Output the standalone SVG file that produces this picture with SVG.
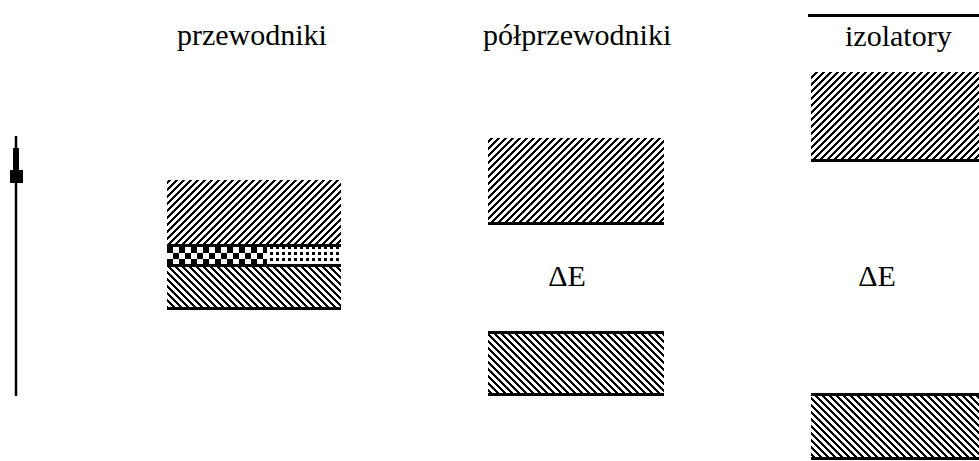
<svg xmlns="http://www.w3.org/2000/svg" width="979" height="461" viewBox="0 0 979 461">
  <style>
    .lbl { font-family: "Liberation Serif", "Times New Roman", serif; font-size: 30px; fill: #000; }
    .mid { text-anchor: middle; }
    .edge { stroke: #000; stroke-width: 3; shape-rendering: crispEdges; }
  </style>
  <defs>
    <!-- rising hatch (/) -->
    <pattern id="hatchUp" patternUnits="userSpaceOnUse" width="7" height="7">
      <path d="M-1,8 L8,-1 M-1,1 L1,-1 M6,8 L8,6" stroke="#000" stroke-width="2.2" shape-rendering="crispEdges"/>
    </pattern>
    <!-- falling hatch (\) -->
    <pattern id="hatchDown" patternUnits="userSpaceOnUse" width="7" height="7">
      <path d="M-1,-1 L8,8 M6,-1 L8,1 M-1,6 L1,8" stroke="#000" stroke-width="2.2" shape-rendering="crispEdges"/>
    </pattern>
    <!-- coarse checkerboard -->
    <pattern id="checker" patternUnits="userSpaceOnUse" x="167" y="247" width="12" height="12">
      <rect width="6" height="6" fill="#000"/>
      <rect x="6" y="6" width="6" height="6" fill="#000"/>
    </pattern>
    <!-- fine dither -->
    <pattern id="dither" patternUnits="userSpaceOnUse" width="6" height="6">
      <rect width="3" height="3" fill="#000"/>
    </pattern>
  </defs>

  <!-- energy axis -->
  <g id="axis">
    <line x1="16" y1="136" x2="16" y2="396" stroke="#000" stroke-width="2.5"/>
    <rect x="13" y="148" width="6" height="22" fill="#000"/>
    <rect x="10" y="170" width="13" height="13" fill="#000"/>
  </g>

  <!-- conductors -->
  <g id="conductors">
    <text class="lbl" x="177" y="45">przewodniki</text>
    <rect x="167" y="180" width="174" height="65" fill="url(#hatchUp)"/>
    <rect x="167" y="246" width="100" height="19" fill="url(#checker)"/>
    <rect x="267" y="246" width="74" height="19" fill="url(#dither)"/>
    <rect x="167" y="265" width="174" height="43" fill="url(#hatchDown)"/>
    <line class="edge" x1="167" y1="245.5" x2="341" y2="245.5"/>
    <line class="edge" x1="167" y1="265.5" x2="341" y2="265.5"/>
    <line class="edge" x1="167" y1="308.5" x2="341" y2="308.5"/>
  </g>

  <!-- semiconductors -->
  <g id="semiconductors">
    <text class="lbl" x="483" y="45">półprzewodniki</text>
    <rect x="488" y="138" width="176" height="85" fill="url(#hatchUp)"/>
    <line class="edge" x1="488" y1="223.5" x2="664" y2="223.5"/>
    <text class="lbl mid" x="567" y="286">ΔE</text>
    <rect x="488" y="332" width="176" height="62" fill="url(#hatchDown)"/>
    <line class="edge" x1="488" y1="332.5" x2="664" y2="332.5"/>
    <line class="edge" x1="488" y1="394.5" x2="664" y2="394.5"/>
  </g>

  <!-- insulators -->
  <g id="insulators">
    <line class="edge" x1="808" y1="15.5" x2="979" y2="15.5"/>
    <text class="lbl" x="845" y="46">izolatory</text>
    <rect x="811" y="72" width="168" height="88" fill="url(#hatchUp)"/>
    <line class="edge" x1="811" y1="160.5" x2="979" y2="160.5"/>
    <text class="lbl mid" x="877" y="286">ΔE</text>
    <rect x="811" y="394" width="168" height="64" fill="url(#hatchDown)"/>
    <line class="edge" x1="811" y1="394.5" x2="979" y2="394.5"/>
    <line class="edge" x1="811" y1="458.5" x2="979" y2="458.5"/>
  </g>
</svg>
